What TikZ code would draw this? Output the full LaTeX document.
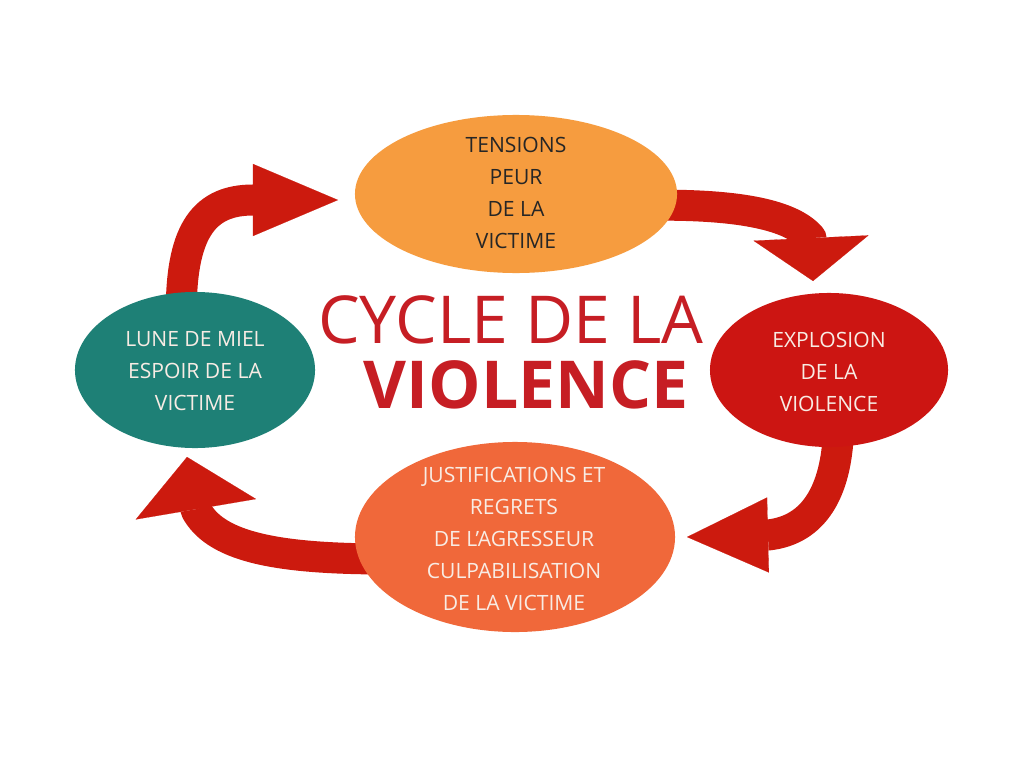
\documentclass[tikz,border=0pt]{standalone}
\usepackage{fontspec}
\setmainfont{Open Sans}
\usetikzlibrary{shapes.geometric, arrows.meta, calc, backgrounds}

\definecolor{tensorange}{HTML}{F69C3F}
\definecolor{explored}{HTML}{CC1512}
\definecolor{justiforange}{HTML}{F0683A}
\definecolor{luneteal}{HTML}{1E8076}
\definecolor{arrowred}{HTML}{CC1A0E}
\definecolor{titlered}{HTML}{C61E24}
\definecolor{creamtext}{HTML}{F8ECE4}

\begin{document}
\begin{tikzpicture}[x=0.025cm, y=-0.025cm,
    phase/.style={ellipse, draw=none, inner sep=0pt},
    phasetext/.style={align=center, inner sep=0pt, font=\fontsize{15}{22.7}\selectfont},
    cyclearrow/.style={draw=arrowred, line width=0.775cm, line join=round}]

    \useasboundingbox (0,0) rectangle (1024,768);

    % the four phases
    \node[phase, fill=tensorange, minimum width=8.05cm, minimum height=3.95cm] (tensions) at (516,194) {};
    \node[phase, fill=explored, minimum width=5.95cm, minimum height=3.85cm] (explosion) at (829,370) {};
    \node[phase, fill=justiforange, minimum width=8cm, minimum height=4.75cm] (justif) at (515,537) {};
    \node[phase, fill=luneteal, minimum width=6cm, minimum height=3.9cm] (lune) at (195,370) {};

    \node[phasetext, text=black!85] (tensionstext) at (516,193) {TENSIONS\\PEUR\\DE LA\\VICTIME};
    \node[phasetext, text=creamtext] (explosiontext) at (829,372) {EXPLOSION\\DE LA\\VIOLENCE};
    \node[phasetext, text=creamtext] (justiftext) at (514,539) {JUSTIFICATIONS ET\\REGRETS\\DE L'AGRESSEUR\\CULPABILISATION\\DE LA VICTIME};
    \node[phasetext, text=creamtext] (lunetext) at (195,371) {LUNE DE MIEL\\ESPOIR DE LA\\VICTIME};

    % title
    \node[anchor=base, text=titlered, font=\fontsize{47}{50}\selectfont] (cycle) at (511,343) {CYCLE DE LA};
    \node[anchor=base, text=titlered, font=\fontsize{47}{50}\selectfont\bfseries] (violence) at (526,408) {VIOLENCE};

    % arrow heads: base and tip
    \coordinate (basea) at (253,200);
    \coordinate (tipa) at (338,200);
    \coordinate (baseb) at (811,238);
    \coordinate (tipb) at (813,281);
    \coordinate (basec) at (768,535);
    \coordinate (tipc) at (687,537);
    \coordinate (based) at (196,510);
    \coordinate (tipd) at (187,457);

    \begin{pgfonlayer}{background}
    \fill[white] (0,0) rectangle (1024,768);
    \draw[cyclearrow, -{Triangle[width=1.8cm, length=2.125cm, line width=0.1pt]}]
        ($(lune.100)+(0,15)$) .. controls (182,230) and (205,200) .. (basea) -- (tipa);
    \draw[cyclearrow, -{Triangle[width=2.875cm, length=1.075cm, line width=0.1pt]}]
        ($(tensions.-4)+(-15,0)$) .. controls (740,205) and (792,215) .. (baseb) -- (tipb);
    \draw[cyclearrow, -{Triangle[width=1.875cm, length=2.025cm, line width=0.1pt]}]
        ($(explosion.-83)+(0,-15)$) .. controls (836,490) and (815,530) .. (basec) -- (tipc);
    \draw[cyclearrow, -{Triangle[width=3.05cm, length=1.325cm, line width=0.1pt]}]
        ($(justif.188)+(15,0)$) .. controls (270,558) and (215,545) .. (based) -- (tipd);
    \end{pgfonlayer}
\end{tikzpicture}
\end{document}
